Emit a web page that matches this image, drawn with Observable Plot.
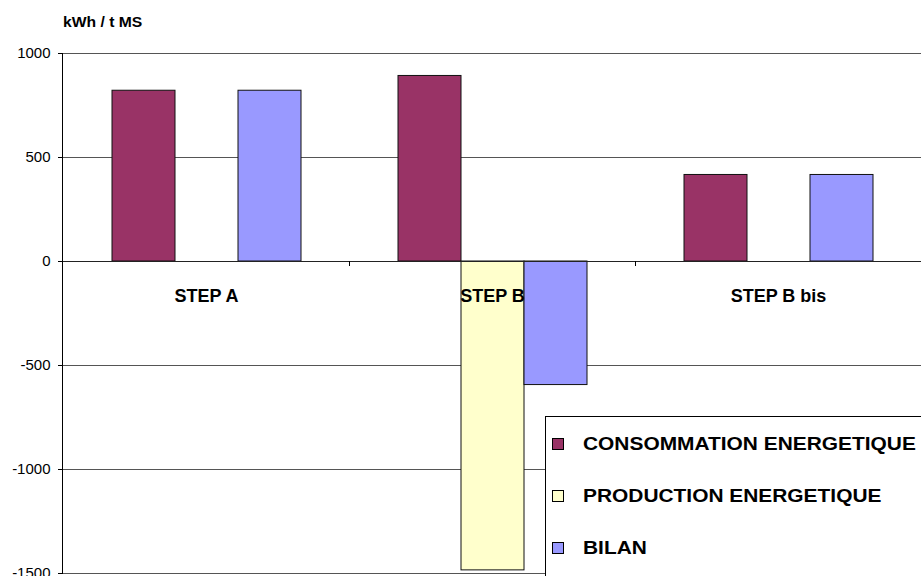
<!DOCTYPE html>
<html>
<head>
<meta charset="utf-8">
<script src="https://cdn.jsdelivr.net/npm/d3@7"></script>
<script src="https://cdn.jsdelivr.net/npm/@observablehq/plot@0.6"></script>
<style>
  html, body { margin: 0; padding: 0; background: #fff; }
  #wrap { position: relative; width: 921px; height: 576px; overflow: hidden; font-family: Arial, "Liberation Sans", sans-serif; }
  #title { position: absolute; left: 63px; top: 15px; font-size: 14px; font-weight: bold; line-height: 1; color: #000; transform: scaleX(1.12); transform-origin: left center; }
  #legend { position: absolute; left: 545px; top: 416px; width: 400px; height: 170px; border: 1px solid #000; background: #fff; box-sizing: border-box; }
  .item { position: absolute; left: 0; height: 24px; }
  .sw { position: absolute; left: 6px; width: 10px; height: 10px; border: 1px solid #000; }
  .lab { position: absolute; left: 37px; white-space: nowrap; font-size: 19px; font-weight: bold; line-height: 24px; color: #000; transform: scaleX(1.1); transform-origin: left center; }
</style>
</head>
<body>
<div id="wrap">
  <div id="chart"></div>
  <div id="title"></div>
  <div id="legend"></div>
</div>
<script>
const categories = ["STEP A", "STEP B", "STEP B bis"];
const series = ["CONSOMMATION ENERGETIQUE", "PRODUCTION ENERGETIQUE", "BILAN"];
const consommation = [821, 892, 416];
const production = [null, -1485, null];
const bilan = [821, -594, 416];
const colors = ["#993366", "#FFFFCC", "#9999FF"];
const yTicks = [-1500, -1000, -500, 0, 500, 1000];
const yLabel = "kWh / t MS";

const seriesValues = [consommation, production, bilan];
const rows = [];
categories.forEach((c, i) => {
  seriesValues.forEach((arr, j) => {
    if (arr[i] != null) rows.push({category: c, series: series[j], value: arr[i]});
  });
});

const W = 921, H = 576, ML = 62, MR = 0, MT = 53, MB = 3;

const chart = Plot.plot({
  width: W,
  height: H,
  marginLeft: ML,
  marginRight: MR,
  marginTop: MT,
  marginBottom: MB,
  style: {fontFamily: "Arial, 'Liberation Sans', sans-serif", background: "transparent", color: "#000"},
  fx: {domain: categories, padding: 0, axis: null, label: null},
  x: {domain: series, paddingInner: 0, paddingOuter: 0.74, axis: null},
  y: {domain: [-1500, 1000], axis: null},
  color: {domain: series, range: colors},
  marks: [
    Plot.ruleY(yTicks, {stroke: "#555", strokeWidth: 1}),
    Plot.barY(rows, {fx: "category", x: "series", y: "value", fill: "series", stroke: "#111", strokeWidth: 1}),
    Plot.ruleY([0], {stroke: "#222", strokeWidth: 1}),
    Plot.text(categories, {fx: d => d, y: () => 0, dy: 35, text: d => d, fontWeight: "bold", fontSize: 18, fill: "#000"}),
    Plot.axisY(yTicks, {anchor: "left", tickSize: 5, tickPadding: 8, fontSize: 15, label: null, stroke: "#000", fill: "#000", tickFormat: d => String(d)})
  ]
});
document.getElementById("chart").appendChild(chart);

// y-axis line and category separator ticks, positioned with the plot's own scales
const yScale = chart.scale("y");
const fxScale = chart.scale("fx");
const y0 = yScale.apply(0);
const svg = d3.select(chart);
const g = svg.append("g").attr("stroke", "#000");
g.append("line")
  .attr("x1", ML + 0.5).attr("x2", ML + 0.5)
  .attr("y1", yScale.apply(yTicks[yTicks.length - 1])).attr("y2", yScale.apply(yTicks[0]));
categories.forEach((c, i) => {
  if (i === 0) return;
  const x = Math.round(fxScale.apply(c)) + 0.5;
  g.append("line")
    .attr("x1", x).attr("x2", x)
    .attr("y1", y0).attr("y2", y0 + 5);
});

document.getElementById("title").textContent = yLabel;

const legend = document.getElementById("legend");
const rowTops = [15, 67, 119];
series.forEach((s, i) => {
  const item = document.createElement("div");
  item.className = "item";
  item.style.top = rowTops[i] + "px";
  const sw = document.createElement("div");
  sw.className = "sw";
  sw.style.background = colors[i];
  sw.style.top = "6px";
  const lab = document.createElement("div");
  lab.className = "lab";
  lab.style.top = "0px";
  lab.textContent = s;
  item.appendChild(sw);
  item.appendChild(lab);
  legend.appendChild(item);
});
</script>
</body>
</html>
